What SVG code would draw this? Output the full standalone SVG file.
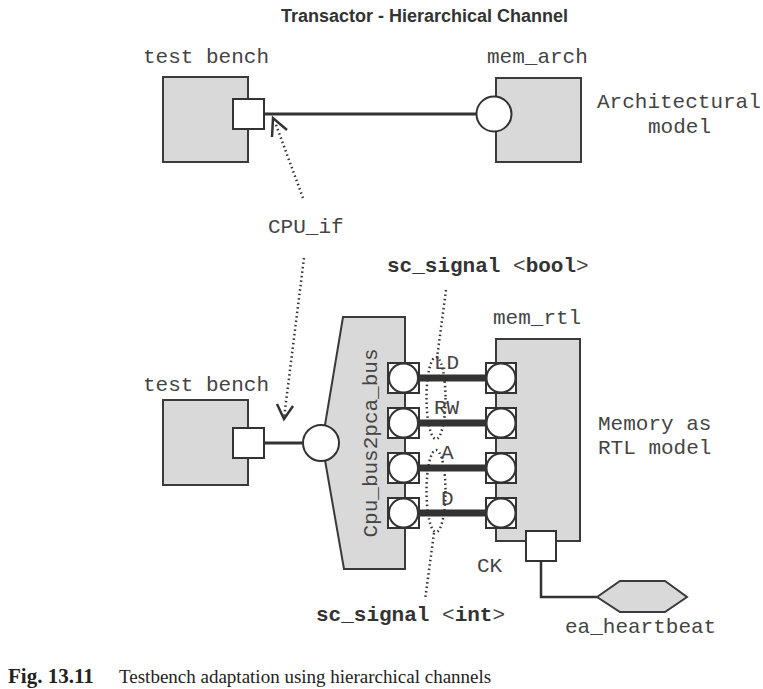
<svg xmlns="http://www.w3.org/2000/svg" width="763" height="689" viewBox="0 0 763 689">
<defs>
<style>
.box{fill:#d9d9d9;stroke:#3a3a3a;stroke-width:2}
.port{fill:#fff;stroke:#333;stroke-width:2}
.mono{font-family:"Liberation Mono","Courier New",monospace;font-size:21px;fill:#444}
.b{font-weight:bold;fill:#333}
.wire{stroke:#333;stroke-width:3;fill:none}
.bus{stroke:#333;stroke-width:7;fill:none}
.dot{stroke:#333;stroke-width:2.5;stroke-dasharray:1.5 3;fill:none}
.head{stroke:#333;stroke-width:2.5;fill:none}
</style>
</defs>
<rect width="763" height="689" fill="#fff"/>
<text x="424.5" y="22" text-anchor="middle" font-family="Liberation Sans,Arial,sans-serif" font-weight="bold" font-size="18" fill="#333">Transactor - Hierarchical Channel</text>

<g id="connectors">
<line class="wire" x1="264" y1="114" x2="477" y2="114"/>
<line class="wire" x1="264" y1="443" x2="303" y2="443"/>
<line class="bus" x1="419" y1="378" x2="486" y2="378"/>
<line class="bus" x1="419" y1="423" x2="486" y2="423"/>
<line class="bus" x1="419" y1="468" x2="486" y2="468"/>
<line class="bus" x1="419" y1="513" x2="486" y2="513"/>
<polyline class="wire" points="541,561 541,597 597,597" style="stroke-width:2.5"/>
<line class="dot" x1="303" y1="198" x2="275" y2="122"/>
<polyline class="head" points="272,137 273,118 287,130"/>
<line class="dot" x1="304" y1="258" x2="284" y2="418"/>
<polyline class="head" points="277,404 284,419 293,406"/>
<line class="dot" x1="446" y1="290" x2="437" y2="358"/>
<ellipse class="dot" cx="436" cy="398" rx="9.5" ry="41"/>
<ellipse class="dot" cx="436" cy="491" rx="9.5" ry="41"/>
<line class="dot" x1="434" y1="533" x2="425" y2="600"/>
</g>

<g id="tb1">
<text class="mono" x="143" y="63">test bench</text>
<rect class="box" x="163" y="77" width="85" height="85"/>
<rect class="port" x="233" y="99" width="31" height="30"/>
</g>

<g id="cpu_if">
<text class="mono" x="268" y="233">CPU_if</text>
</g>

<g id="mem_arch">
<text class="mono" x="487" y="63">mem_arch</text>
<rect class="box" x="496" y="78" width="85" height="84"/>
<circle class="port" cx="494" cy="114" r="17.5"/>
<text class="mono" x="597" y="108">Architectural</text>
<text class="mono" x="648" y="133">model</text>
</g>

<g id="tb2">
<text class="mono" x="143" y="391">test bench</text>
<rect class="box" x="163" y="400" width="85" height="85"/>
<rect class="port" x="233" y="428" width="31" height="30"/>
</g>

<g id="cpu_bus2pca_bus">
<polygon class="box" points="343,317 405,317 405,569 344,569 322,443"/>
<circle class="port" cx="321" cy="443" r="18"/>
<text class="mono" transform="translate(377,443) rotate(-90)" text-anchor="middle">Cpu_bus2pca_bus</text>
<g>
<rect class="port" x="388" y="363" width="31" height="30"/><circle class="port" cx="403.5" cy="378" r="14.5"/>
<rect class="port" x="388" y="408" width="31" height="30"/><circle class="port" cx="403.5" cy="423" r="14.5"/>
<rect class="port" x="388" y="453" width="31" height="30"/><circle class="port" cx="403.5" cy="468" r="14.5"/>
<rect class="port" x="388" y="498" width="31" height="30"/><circle class="port" cx="403.5" cy="513" r="14.5"/>
</g>
</g>

<g id="signals">
<text class="mono" x="387" y="272"><tspan class="b">sc_signal</tspan> &lt;<tspan class="b">bool</tspan>&gt;</text>
<text class="mono" x="434" y="369">LD</text>
<text class="mono" x="434" y="414">RW</text>
<text class="mono" x="441" y="459">A</text>
<text class="mono" x="441" y="505">D</text>
<text class="mono" x="316" y="621"><tspan class="b">sc_signal</tspan> &lt;<tspan class="b">int</tspan>&gt;</text>
</g>

<g id="mem_rtl">
<text class="mono" x="493" y="324">mem_rtl</text>
<rect class="box" x="496" y="339" width="84" height="202"/>
<rect class="port" x="486" y="363" width="30" height="30"/><circle class="port" cx="501" cy="378" r="14.5"/>
<rect class="port" x="486" y="408" width="30" height="30"/><circle class="port" cx="501" cy="423" r="14.5"/>
<rect class="port" x="486" y="453" width="30" height="30"/><circle class="port" cx="501" cy="468" r="14.5"/>
<rect class="port" x="486" y="498" width="30" height="30"/><circle class="port" cx="501" cy="513" r="14.5"/>
<rect class="port" x="526" y="531" width="30" height="30"/>
<text class="mono" x="477" y="572">CK</text>
<text class="mono" x="598" y="430">Memory as</text>
<text class="mono" x="598" y="454">RTL model</text>
</g>

<g id="ea_heartbeat">
<polygon class="box" points="597,597 620,581 665,581 687,597 665,612 620,612"/>
<text class="mono" x="565" y="633">ea_heartbeat</text>
</g>

<text x="8" y="683" font-family="Liberation Serif,Times New Roman,serif" font-size="19" fill="#222"><tspan font-weight="bold" font-size="21">Fig. 13.11</tspan><tspan x="119">Testbench adaptation using hierarchical channels</tspan></text>
</svg>
